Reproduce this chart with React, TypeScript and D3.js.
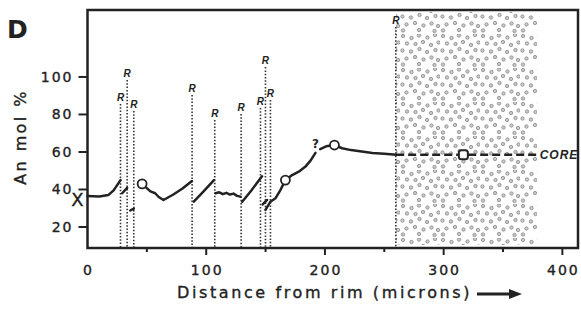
import React from "react";
import * as d3 from "d3";

// ---- data ----
const xMajorTicks = [0, 100, 200, 300, 400];
const xMinorTicks = [50, 150, 250, 350];
const yTicks = [20, 40, 60, 80, 100];

const segRim = [[0, 36.5], [10, 36.3], [17.5, 37], [22, 39.5], [27.8, 45]];
const segB = [[29.2, 38], [33.4, 40.8]];
const segC = [[36, 28.8], [39, 29.8]];
const segD = [[49.5, 41], [53, 39], [57, 38], [60, 36], [64, 34.4], [72, 37.2], [80, 40.5], [88, 44.5]];
const segE = [[89.5, 33.5], [97, 38.5], [106.5, 45]];
const segF = [[107.8, 38], [111, 38.5], [114, 37.5], [117, 38.2], [120, 37.3], [123, 37.8], [126, 36.6], [128.8, 36.2]];
const segG = [[130.3, 33.5], [138, 39.5], [147, 47]];
const segH = [[147.6, 32], [151.3, 34.4]];
const segI = [[149.9, 29.1], [154.1, 33.5], [158.3, 35.3], [162.5, 39.7], [166.7, 45], [172.4, 47.7], [178, 49.5], [183.6, 52.2], [188, 55.5], [192, 59.5]];
const segJ = [[196, 61.5], [201, 63], [208, 63.7], [214.5, 62], [222, 61], [231, 60.2], [240, 59.5], [250, 59], [260, 58.5]];
const coreDashed = [[260, 58.5], [378.6, 58.5]];

const openCircles = [[46, 43], [166.7, 45], [208, 63.7]];
const coreMarker = [316.6, 58.5];
const questionMark = [192, 64];
const coreLabel = [380, 58.5];
const startMarkX = [0, 35.5];

const rLineDist = [27.8, 33.4, 39, 88.1, 107.2, 129.4, 145.7, 149.9, 154.1, 259.7];
const rLabelLevel = [89.3, 102.1, 85.6, 94.1, 80.8, 84, 87.2, 109, 91.5, 130.4];

const coreZone = [259.7, 378.6];

const solidSegments = [segRim, segB, segC, segD, segE, segF, segG, segH, segI, segJ];

// stipple tile dot offsets (texture only)
const stippleDots = [
  [3, 2], [11.5, 4], [19, 1.5], [27.5, 3.5], [35, 1],
  [7, 9.5], [15.5, 10], [23, 8], [31, 11], [38.5, 8.5],
  [2.5, 16.5], [11, 17.5], [19.5, 15], [27, 18], [35.5, 16],
  [6.5, 24.5], [15, 23], [23.5, 25.5], [31.5, 23.5], [38, 26],
  [3, 30.5], [19, 30], [34.5, 31],
];

const ink = "#222";
const FONT = "'DejaVu Sans', Arial, sans-serif";

export default function App() {
  const x = d3.scaleLinear().domain([0, 414]).range([87.5, 579]);
  const y = d3.scaleLinear().domain([8.8, 135.7]).range([248, 10]);
  const line = d3
    .line<number[]>()
    .x((d) => x(d[0]))
    .y((d) => y(d[1]));

  const [x0, x1] = x.range();
  const [yb, yt] = y.range();
  const heavy = { stroke: ink, strokeWidth: 0.35 };

  return (
    <svg
      width={581}
      height={316}
      style={{ position: "absolute", left: 0, top: 0, background: "#fff" }}
      fontFamily={FONT}
    >
      <defs>
        <pattern id="stip" width={40} height={34} patternUnits="userSpaceOnUse">
          {stippleDots.map((p, i) => (
            <circle key={i} cx={p[0]} cy={p[1]} r={1.7} fill="#c8c8c8" stroke="#8c8c8c" strokeWidth={0.8} />
          ))}
        </pattern>
      </defs>

      {/* panel letter */}
      <text x={7} y={38} fontSize={25} fontWeight="bold" fill={ink}>D</text>

      {/* core stipple zone */}
      <rect
        x={x(coreZone[0])}
        y={yt + 2}
        width={x(coreZone[1]) - x(coreZone[0])}
        height={yb - yt - 5}
        fill="url(#stip)"
      />

      {/* R dotted lines and labels */}
      {rLineDist.map((d, i) => (
        <g key={i}>
          <line
            x1={x(d)}
            x2={x(d)}
            y1={y(rLabelLevel[i]) + 7}
            y2={yb - 1}
            stroke="#333"
            strokeWidth={1.6}
            strokeDasharray="1.5 1.8"
          />
          <text
            x={x(d)}
            y={y(rLabelLevel[i]) + 4}
            textAnchor="middle"
            fontSize={10}
            fontWeight="bold"
            fontStyle="italic"
            fontFamily="Arial, 'Liberation Sans', sans-serif"
            fill={ink}
          >
            R
          </text>
        </g>
      ))}

      {/* profile */}
      {solidSegments.map((s, i) => (
        <path key={i} d={line(s) || ""} fill="none" stroke={ink} strokeWidth={2.5} strokeLinejoin="round" strokeLinecap="round" />
      ))}
      <path d={line(coreDashed) || ""} fill="none" stroke={ink} strokeWidth={2.5} strokeDasharray="8 4" />

      {openCircles.map((c, i) => (
        <circle key={i} cx={x(c[0])} cy={y(c[1])} r={4.5} fill="#fff" stroke={ink} strokeWidth={1.8} />
      ))}
      <rect
        x={x(coreMarker[0]) - 4.5}
        y={y(coreMarker[1]) - 4.5}
        width={9}
        height={9}
        rx={2.5}
        fill="#fff"
        stroke={ink}
        strokeWidth={2}
      />
      <text x={x(questionMark[0])} y={y(questionMark[1]) + 4} textAnchor="middle" fontSize={12} fontWeight="bold" fill={ink}>?</text>
      <text
        x={x(coreLabel[0]) + 1}
        y={y(coreLabel[1]) + 4.5}
        fontSize={12}
        fontWeight="bold"
        fontStyle="italic"
        letterSpacing={1}
        fontFamily="Arial, 'Liberation Sans', sans-serif"
        fill={ink}
      >
        CORE
      </text>

      {/* frame */}
      <rect x={x0} y={yt} width={x1 - x0 - 1} height={yb - yt} fill="none" stroke={ink} strokeWidth={2.5} />

      {/* x ticks */}
      {xMajorTicks.map((t) => (
        <g key={t}>
          {t > 0 && <line x1={x(t)} x2={x(t)} y1={yb} y2={yb + 7} stroke={ink} strokeWidth={2} />}
          <text x={x(t) + 1} y={yb + 27} textAnchor="middle" fontSize={14} letterSpacing={2} fill={ink} {...heavy}>{t}</text>
        </g>
      ))}
      {xMinorTicks.map((t) => (
        <line key={t} x1={x(t)} x2={x(t)} y1={yb} y2={yb + 4} stroke={ink} strokeWidth={2} />
      ))}

      {/* y ticks */}
      {yTicks.map((t) => (
        <g key={t}>
          <line x1={x0 - 9} x2={x0} y1={y(t)} y2={y(t)} stroke={ink} strokeWidth={2} />
          <text x={x0 - 14} y={y(t) + 5} textAnchor="end" fontSize={14} letterSpacing={2} fill={ink} {...heavy}>{t}</text>
        </g>
      ))}

      {/* start marker X */}
      <text x={x(startMarkX[0]) - 10} y={y(startMarkX[1]) + 8} textAnchor="middle" fontSize={18} fill={ink} {...heavy}>X</text>

      {/* axis titles */}
      <text x={177} y={298} fontSize={16} letterSpacing={2.6} fill={ink} {...heavy}>Distance from rim (microns)</text>
      <line x1={477} x2={512} y1={294} y2={294} stroke={ink} strokeWidth={3} />
      <polygon points="509,289 522,294 509,299" fill={ink} />

      <text
        transform="translate(26,137) rotate(-90)"
        textAnchor="middle"
        fontSize={16}
        letterSpacing={2.4}
        fill={ink}
        {...heavy}
      >
        An mol %
      </text>
    </svg>
  );
}
